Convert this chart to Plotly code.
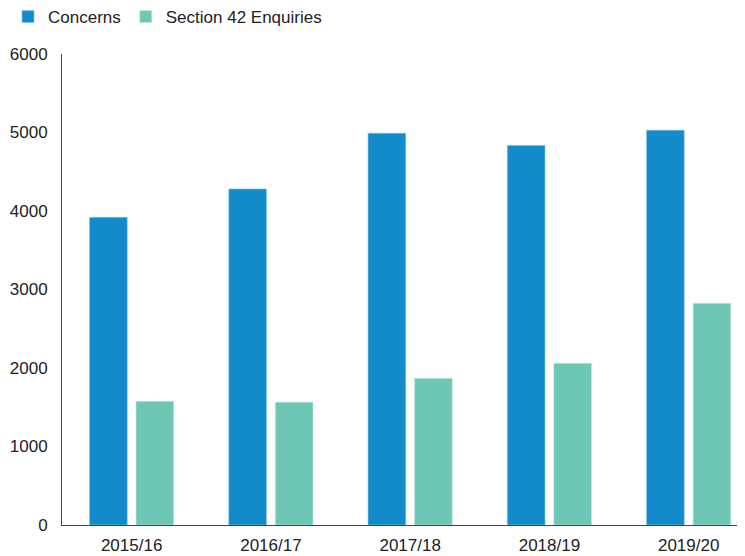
import plotly.graph_objects as go

years = ["2015/16", "2016/17", "2017/18", "2018/19", "2019/20"]
concerns = [3920, 4280, 4990, 4835, 5030]
enquiries = [1575, 1565, 1870, 2060, 2825]

fig = go.Figure()
fig.add_trace(go.Bar(x=years, y=concerns, name="Concerns",
                     marker=dict(color="#138BCA", line=dict(color="#7FC3E6", width=0.6))))
fig.add_trace(go.Bar(x=years, y=enquiries, name="Section 42 Enquiries",
                     marker=dict(color="#6EC6B4", line=dict(color="#C5EAE2", width=0.6))))

fig.update_layout(
    width=745, height=556,
    margin=dict(l=54, r=0, t=46, b=39, autoexpand=False),
    paper_bgcolor="white", plot_bgcolor="white",
    font=dict(family="Liberation Sans, Arial, sans-serif", size=17, color="#222222"),
    barmode="group", bargap=0.332, bargroupgap=0.19,
    showlegend=True,
    legend=dict(orientation="h", xref="container", yref="container",
                x=-16 / 745, xanchor="left", y=1 - 9 / 556, yanchor="middle",
                font=dict(size=17), itemwidth=30, traceorder="normal",
                bgcolor="rgba(0,0,0,0)"),
    xaxis=dict(range=[-0.5, 4.462], showline=True, linecolor="#444444", linewidth=1,
               ticks="", showgrid=False, tickfont=dict(size=17), automargin=False,
               ticklabelstandoff=5),
    yaxis=dict(range=[0, 6000], dtick=1000, showline=True, linecolor="#444444", linewidth=1,
               ticks="", showgrid=False, zeroline=False, tickfont=dict(size=17),
               ticklabelstandoff=10, automargin=False),
)

fig.write_html("out.html")
